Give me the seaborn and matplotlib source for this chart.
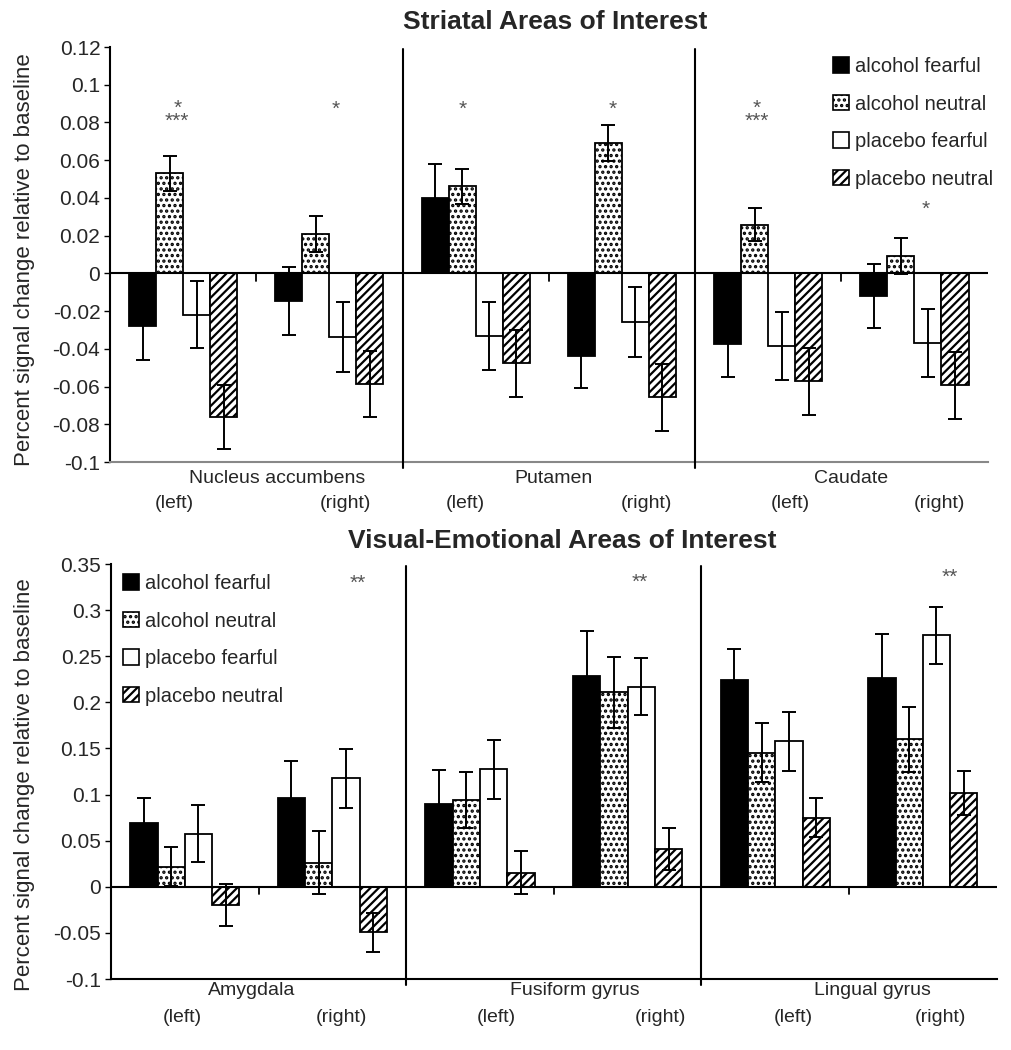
import matplotlib
matplotlib.use("Agg")
import matplotlib.pyplot as plt
import matplotlib.patches as mpatches
import matplotlib.transforms as mtransforms
from matplotlib.ticker import FuncFormatter, MultipleLocator
import seaborn as sns
import pandas as pd

# ---------------- data ----------------
conditions = ["alcohol fearful", "alcohol neutral", "placebo fearful", "placebo neutral"]
top_categories = ["NAcc L", "NAcc R", "Putamen L", "Putamen R", "Caudate L", "Caudate R"]
bot_categories = ["Amygdala L", "Amygdala R", "Fusiform L", "Fusiform R", "Lingual L", "Lingual R"]

top_af = [-0.028, -0.0145, 0.040, -0.0436, -0.0374, -0.0118]
top_an = [0.053, 0.0208, 0.0462, 0.0693, 0.0259, 0.0093]
top_pf = [-0.0219, -0.0339, -0.033, -0.0259, -0.0383, -0.037]
top_pn = [-0.0762, -0.0584, -0.0476, -0.0656, -0.0571, -0.0594]
top_af_err = [0.018, 0.018, 0.018, 0.0172, 0.0173, 0.017]
top_an_err = [0.0094, 0.0095, 0.0094, 0.0095, 0.0087, 0.0095]
top_pf_err = [0.0178, 0.0185, 0.018, 0.0185, 0.018, 0.018]
top_pn_err = [0.017, 0.0175, 0.0177, 0.0178, 0.0178, 0.0177]

bot_af = [0.0687, 0.0965, 0.0897, 0.2289, 0.2238, 0.226]
bot_an = [0.0217, 0.026, 0.094, 0.2108, 0.1453, 0.1598]
bot_pf = [0.0578, 0.1175, 0.1276, 0.2169, 0.158, 0.2726]
bot_pn = [-0.0199, -0.0495, 0.0155, 0.0409, 0.0748, 0.102]
bot_af_err = [0.028, 0.040, 0.037, 0.048, 0.034, 0.048]
bot_an_err = [0.021, 0.034, 0.030, 0.0385, 0.032, 0.035]
bot_pf_err = [0.031, 0.032, 0.032, 0.031, 0.032, 0.031]
bot_pn_err = [0.023, 0.021, 0.023, 0.023, 0.021, 0.024]

top_title = "Striatal Areas of Interest"
bot_title = "Visual-Emotional Areas of Interest"
ylabel = "Percent signal change relative to baseline"

top_regions = ["Nucleus accumbens", "Putamen", "Caudate"]
bot_regions = ["Amygdala", "Fusiform gyrus", "Lingual gyrus"]
side_labels = ["(left)", "(right)"]

# significance marks: (x in category units, y value, text)
top_stars = [(-0.04, 0.084, "*\n***"), (1.04, 0.087, "*"),
             (1.91, 0.087, "*"), (2.94, 0.087, "*"), (3.92, 0.084, "*\n***"),
             (5.08, 0.034, "*")]
bot_stars = [(1.17, 0.329, "**"), (3.08, 0.330, "**"), (5.18, 0.336, "**")]

# label positions (category units)
top_region_x = [0.64, 2.53, 4.57]
top_side_x = [-0.06, 1.11, 1.93, 3.17, 4.15, 5.17]
bot_region_x = [0.45, 2.64, 4.66]
bot_side_x = [-0.02, 1.06, 2.11, 3.22, 4.12, 5.12]

# ---------------- style ----------------
sns.set_theme(style="white")
plt.rcParams["font.family"] = ["Liberation Sans", "DejaVu Sans"]
plt.rcParams["axes.unicode_minus"] = False
plt.rcParams["hatch.linewidth"] = 1.6
plt.rcParams["hatch.color"] = "black"

palette = ["black", "white", "white", "white"]
hatches = ["", "...", "", "////"]

fig = plt.figure(figsize=(10.11, 10.5), dpi=100)
fig.patch.set_facecolor("white")
ax1 = fig.add_axes([0.1088, 0.56, 0.868, 0.3952])
ax2 = fig.add_axes([0.1098, 0.0676, 0.876, 0.3952])


def make_df(cats, series):
    rows = []
    for cond, vals in zip(conditions, series):
        for c, v in zip(cats, vals):
            rows.append({"region": c, "condition": cond, "value": v})
    return pd.DataFrame(rows)


def fmt(v, p):
    v = round(v, 4)
    if abs(v) < 1e-9:
        return "0"
    return f"{v:g}"


def draw_panel(ax, cats, series, errs, ylim, step, stars, region_x, side_x,
               regions, label_off, bottom_color):
    df = make_df(cats, series)
    sns.barplot(data=df, x="region", y="value", hue="condition", order=cats,
                hue_order=conditions, palette=palette, saturation=1,
                edgecolor="black", linewidth=1.3, width=0.74, errorbar=None,
                legend=False, ax=ax, zorder=2)
    for cont, h, vals, er in zip(ax.containers, hatches, series, errs):
        for p in cont:
            p.set_hatch(h)
        xs = [p.get_x() + p.get_width() / 2 for p in cont]
        ax.errorbar(xs, vals, yerr=er, fmt="none", ecolor="black",
                    elinewidth=1.4, capsize=5, capthick=1.4, zorder=5)
    ax.set_xlim(-0.5, 5.5)
    ax.set_ylim(*ylim)
    ax.yaxis.set_major_locator(MultipleLocator(step))
    ax.yaxis.set_major_formatter(FuncFormatter(fmt))
    ax.tick_params(axis="y", which="major", direction="out", length=4, width=1,
                   color="black", labelsize=15, pad=3, left=True)
    ax.set_xticks([])
    ax.set_xlabel("")
    ax.set_ylabel("")
    for s in ["top", "right"]:
        ax.spines[s].set_visible(False)
    ax.spines["left"].set_color("black")
    ax.spines["left"].set_linewidth(1.5)
    ax.spines["bottom"].set_color(bottom_color)
    ax.spines["bottom"].set_linewidth(1.5)
    ax.axhline(0, color="black", lw=1.5, zorder=4)
    # region separators
    trans = mtransforms.blended_transform_factory(ax.transData, ax.transAxes)
    for xv in [1.5, 3.5]:
        ax.plot([xv, xv], [-0.015, 0.995], color="black", lw=1.5,
                transform=trans, clip_on=False, zorder=4)
    # small ticks on zero line
    for xv in [0.5, 2.5, 4.5]:
        ax.plot([xv, xv], [0, -(ylim[1] - ylim[0]) * 0.018], color="black",
                lw=1.3, zorder=4)
    for (xv, yv, t) in stars:
        ax.text(xv, yv, t, ha="center", va="center", fontsize=15,
                color="#555555", linespacing=0.55, multialignment="center")
    for xv, name in zip(region_x, regions):
        ax.text(xv, label_off[0], name, transform=trans, ha="center", va="center",
                fontsize=14)
    for i, xv in enumerate(side_x):
        ax.text(xv, label_off[1], side_labels[i % 2], transform=trans,
                ha="center", va="center", fontsize=14)


draw_panel(ax1, top_categories, [top_af, top_an, top_pf, top_pn],
           [top_af_err, top_an_err, top_pf_err, top_pn_err],
           (-0.1, 0.12), 0.02, top_stars, top_region_x, top_side_x, top_regions,
           (-0.04, -0.1), "#888888")
draw_panel(ax2, bot_categories, [bot_af, bot_an, bot_pf, bot_pn],
           [bot_af_err, bot_an_err, bot_pf_err, bot_pn_err],
           (-0.1, 0.35), 0.05, bot_stars, bot_region_x, bot_side_x, bot_regions,
           (-0.027, -0.092), "black")

handles = [mpatches.Patch(facecolor=c, edgecolor="black", hatch=h, linewidth=1.2)
           for c, h in zip(palette, hatches)]
leg_kw = dict(frameon=False, fontsize=14.5, handlelength=0.8, handleheight=0.8,
              handletextpad=0.3, labelspacing=0.92, borderaxespad=0.2)
ax1.legend(handles, conditions, loc="upper left", bbox_to_anchor=(0.81, 1.005), **leg_kw)
ax2.legend(handles, conditions, loc="upper left", bbox_to_anchor=(0.0, 1.005), **leg_kw)

fig.text(0.549, 1 - 22 / 1050, top_title, ha="center", va="center",
         fontsize=19, fontweight="bold")
fig.text(0.556, 1 - 541 / 1050, bot_title, ha="center", va="center",
         fontsize=19, fontweight="bold")
fig.text(25 / 1011, 1 - 260 / 1050, ylabel, rotation=90, ha="center", va="center",
         fontsize=16)
fig.text(25 / 1011, 1 - 785 / 1050, ylabel, rotation=90, ha="center", va="center",
         fontsize=16)

fig.savefig("out.png", dpi=100, facecolor="white")
